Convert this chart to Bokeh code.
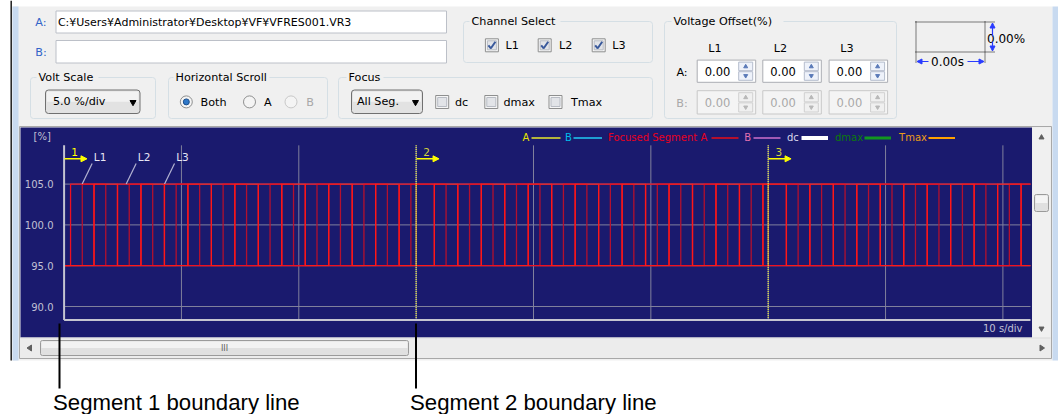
from bokeh.plotting import figure
from bokeh.models import Range1d, Arrow, NormalHead
from bokeh.embed import file_html
from bokeh.resources import INLINE
from bokeh.core.properties import value

# ---------------- data ----------------
LOW_LEVEL = 95.0
HIGH_LEVEL = 105.0
RECORD_END = 82.35          # s, right end of the shown record
L1_EDGES = [0.55, 2.55, 4.55, 6.55, 8.55, 10.55, 12.55, 14.55, 16.55, 18.55, 20.55, 22.55, 24.55, 26.55, 28.55,
            31.55, 33.55, 35.55, 37.55, 39.55, 41.55, 43.55, 45.55, 47.55, 49.55, 51.55, 53.55, 55.55, 57.55, 59.55,
            61.55, 63.55, 65.55, 67.55, 69.55, 71.55, 73.55, 75.55, 77.55, 79.55, 81.55]
L2_EDGES = [1.55, 3.55, 5.55, 7.55, 9.55, 11.55, 13.55, 15.55, 17.55, 19.55, 21.55, 23.55, 25.55, 27.55, 29.55,
            32.55, 34.55, 36.55, 38.55, 40.55, 42.55, 44.55, 46.55, 48.55, 50.55, 52.55, 54.55, 56.55, 58.55,
            62.55, 64.55, 66.55, 68.55, 70.55, 72.55, 74.55, 76.55, 78.55, 80.55]
L3_EDGES = [2.55, 4.55, 6.55, 8.55, 10.55, 12.55, 14.55, 16.55, 18.55, 20.55, 22.55, 24.55, 26.55, 28.55,
            31.55, 33.55, 35.55, 37.55, 39.55, 41.55, 43.55, 45.55, 47.55, 49.55, 51.55, 53.55, 55.55, 57.55, 59.55,
            61.55, 63.55, 65.55, 67.55, 69.55, 71.55, 73.55, 75.55, 77.55, 79.55, 81.55]
START_LEVELS = [95.0, 95.0, 95.0]
PHASES = ["L1", "L2", "L3"]
PHASE_MARK_T = [1.54, 5.29, 8.56]
SEG_STARTS = [0, 30, 60]
SEG_NAMES = ["1", "2", "3"]
Y_TICKS = [90.0, 95.0, 100.0, 105.0]
Y_TICK_LABELS = ["90.0", "95.0", "100.0", "105.0"]
X_GRID = [10, 20, 30, 40, 50, 60, 70, 80]
LEGEND_LABELS = ["A", "B", "Focused Segment A", "B", "dc", "dmax", "Tmax"]
FILE_A = "C:¥Users¥Administrator¥Desktop¥VF¥VFRES001.VR3"
VOLT_SCALE = "5.0 %/div"
TIME_SCALE = "10 s/div"
OFFSET_CHANNELS = ["L1", "L2", "L3"]
OFFSETS_A = ["0.00", "0.00", "0.00"]
OFFSETS_B = ["0.00", "0.00", "0.00"]
CALLOUTS = ["Segment 1 boundary line", "Segment 2 boundary line"]

# ---------------- scales / layout ----------------
W, H = 1058, 414
X0, PX_S = 63.6, 11.735        # pixel of t=0, pixels per second
Y100, PX_PCT = 224.4, 8.16     # pixel of 100 %, pixels per %
T_AXIS_MAX = 82.35
P_MIN, P_MAX = 88.35, 109.75

PANEL = "#f0f0f0"
NAVY = "#1a1a6e"
UI_FONT = "DejaVu Sans"

p = figure(width=W, height=H, x_range=Range1d(0, W), y_range=Range1d(H, 0),
           min_border=0, toolbar_location=None, output_backend="svg",
           x_axis_location=None, y_axis_location=None)
p.grid.visible = False
p.outline_line_color = None
p.background_fill_color = "white"
p.border_fill_color = "white"
p.extra_x_ranges = {"t": Range1d((0 - X0) / PX_S, (W - X0) / PX_S)}
p.extra_y_ranges = {"pct": Range1d(100 - (H - Y100) / PX_PCT, 100 + (Y100 - 0) / PX_PCT)}
TP = dict(x_range_name="t", y_range_name="pct")


def box(l, r, t, b, fill, line=None, lw=1, radius=0):
    p.quad(left=[l], right=[r], top=[t], bottom=[b], fill_color=fill, line_color=line,
           line_width=lw, border_radius=radius)


def txt(x, y, s, size=11, color="black", align="left", font=UI_FONT, baseline="middle", **kw):
    p.text(x=[x], y=[y], text=[s], text_font=value(font), text_font_size=f"{size}px",
           text_color=color, text_align=align, text_baseline=baseline, **kw)


def seg(x0, y0, x1, y1, color, lw=1, dash="solid", **kw):
    p.segment(x0=[x0], y0=[y0], x1=[x1], y1=[y1], line_color=color, line_width=lw, line_dash=dash, **kw)


def group(l, r, t, b, label, lx, lw):
    box(l, r, t, b, None, "#d5dfe5", 1, 3)
    box(lx - 2, lx + lw + 2, t - 4, t + 4, PANEL, None)
    txt(lx, t, label, 11.2)


def checkbox(cx, cy, checked):
    box(cx - 6.5, cx + 6.5, cy - 6.5, cy + 6.5, "#f6f6f6", "#8e8f8f")
    box(cx - 4.5, cx + 4.5, cy - 4.5, cy + 4.5, "#e2e4e8", "#b8bcc4")
    if checked:
        p.line(x=[cx - 3.5, cx - 1, cx + 3.5], y=[cy, cy + 3, cy - 3.5], line_color="#3a5a9c", line_width=2)


def radio(cx, cy, selected, disabled=False):
    p.scatter(x=[cx], y=[cy], size=12, marker="circle", fill_color="#f4f4f4",
              line_color="#c8c8c8" if disabled else "#8e8f8f")
    if selected:
        p.scatter(x=[cx], y=[cy], size=6, marker="circle", fill_color="#2f78c8", line_color="#1c4f8c")


def combo(l, r, t, b, text, tx):
    box(l, r, t, b, "#e2e2e2", "#707070", 1, 3)
    box(l + 1.5, r - 1.5, t + 1.5, (t + b) / 2, "#f2f2f2", None)
    txt(tx, (t + b) / 2, text, 11.2)
    p.scatter(x=[r - 7], y=[(t + b) / 2 + 0.5], marker="inverted_triangle", size=6,
              fill_color="black", line_color="black")


def spin(l, r, t, b, text, disabled):
    box(l, r, t, b, "#f4f4f4" if disabled else "white", "#c8c8c8" if disabled else "#abadb3")
    bl, br, mid = r - 17, r - 3, (t + b) / 2
    bfill = "#f0f0f0" if disabled else "#eef2fa"
    bline = "#d0d0d0" if disabled else "#b4bccc"
    box(bl, br, t + 2, mid - 0.5, bfill, bline)
    box(bl, br, mid + 0.5, b - 2, bfill, bline)
    ac = "#b8b8b8" if disabled else "#5a7ab8"
    p.scatter(x=[(bl + br) / 2], y=[(t + 2 + mid) / 2], marker="triangle", size=4, fill_color=ac, line_color=ac)
    p.scatter(x=[(bl + br) / 2], y=[(mid + b - 2) / 2], marker="inverted_triangle", size=4, fill_color=ac, line_color=ac)
    txt(l + 7.5, mid, text, 11.5, "#a8a8a8" if disabled else "black")


# ---------------- window panel ----------------
box(12, 1052, 6, 360, PANEL, None)
box(12, 18, 6, 360, "#c8daf0", None)
box(1052, 1058, 6, 360, "#c8daf0", None)
seg(10.7, 0, 10.7, 360, "#1e1e1e", 1.5)

# file rows
txt(34.8, 21.5, "A:", 11.2, "#3264c8")
box(55.5, 446, 10.5, 32.5, "white", "#bcc0c8")
txt(57.4, 21.5, FILE_A, 11)
txt(34.8, 51.5, "B:", 11.2, "#3264c8")
box(55.5, 446, 40, 62.5, "white", "#bcc0c8")

# Channel Select
group(463, 652, 21, 62, "Channel Select", 471, 87)
for cx, tx, lab in zip([491.4, 544.2, 598.2], [505, 558.6, 611.8], PHASES):
    checkbox(cx, 44.8, True)
    txt(tx, 45, lab, 11.2)

# Volt Scale
group(30, 155, 77, 118, "Volt Scale", 38, 58)
combo(45, 139.5, 89.5, 113, VOLT_SCALE, 52.4)

# Horizontal Scroll
group(168, 327, 77, 118, "Horizontal Scroll", 175, 92)
radio(185.8, 101.4, True)
txt(200, 101.5, "Both", 11.2)
radio(249, 101.4, False)
txt(263.5, 101.5, "A", 11.2)
radio(290.5, 101.4, False, True)
txt(305.7, 101.5, "B", 11.2, "#a8a8a8")

# Focus
group(338, 652, 77, 118, "Focus", 348, 33)
combo(351, 422, 89.5, 113, "All Seg.", 356.4)
for cx, tx, lab in zip([441.7, 490.8, 555], [454.4, 503, 570.4], ["dc", "dmax", "Tmax"]):
    checkbox(cx, 101.5, False)
    txt(tx, 101.5, lab, 11.2)

# Voltage Offset
group(664, 896, 21, 118, "Voltage Offset(%)", 673, 108)
for cx, lab in zip([714.5, 780, 846.5], OFFSET_CHANNELS):
    txt(cx, 48, lab, 11.2, align="center")
txt(681.5, 72.4, "A:", 11.2, align="center")
txt(681.5, 102.7, "B:", 11.2, "#a8a8a8", align="center")
for l, va, vb in zip([696.7, 762.3, 828.6], OFFSETS_A, OFFSETS_B):
    spin(l, l + 58.5, 59.6, 81.8, va, False)
    spin(l, l + 58.5, 90.2, 113.5, vb, True)

# cursor delta widget (top right)
seg(915, 21.5, 995, 21.5, "black", 1, "1 1")
seg(915, 51.5, 995, 51.5, "black", 1, "1 1")
seg(915.5, 21, 915.5, 63, "black", 1, "1 1")
seg(984.5, 21, 984.5, 63, "black", 1, "1 1")
BLUE = "#2a3cff"
for xs, ys, xe, ye in [(992, 36, 992, 22.5), (992, 41, 992, 50.5), (928, 61, 916.5, 61), (967, 61, 983.5, 61)]:
    p.add_layout(Arrow(x_start=xs, y_start=ys, x_end=xe, y_end=ye, line_color=BLUE, line_width=1.2,
                       end=NormalHead(size=5, fill_color=BLUE, line_color=BLUE)))
txt(986.5, 38.5, "0.00%", 12)
txt(930.5, 61, "0.00s", 12)

# ---------------- plot control frame ----------------
box(19, 1051, 126, 358, "#ececec", "#a8a8a8")
box(20, 1031.5, 127, 337, NAVY, None)
# vertical scrollbar
box(1032, 1050, 127, 337, "#f0f0f0", None)
box(1034, 1048, 194, 211, "#e0e0e0", "#9a9a9a", 1, 2)
box(1035, 1047, 195, 202.5, "#f4f4f4", None)
p.scatter(x=[1041], y=[137], marker="triangle", size=5, fill_color="#606060", line_color="#606060")
p.scatter(x=[1041], y=[328], marker="inverted_triangle", size=5, fill_color="#606060", line_color="#606060")
# horizontal scrollbar
box(20, 1050, 338, 357, "#ececec", None)
seg(20, 337.5, 1050, 337.5, "#dcdcdc", 1)
box(40, 408, 340, 355, "#e0e0e0", "#9a9a9a", 1, 2)
box(41, 407, 341, 347.5, "#f2f2f2", None)
txt(224, 348, "III", 8, "#606060", align="center")
p.patch(x=[26.5, 31, 31], y=[347.5, 344.5, 350.5], fill_color="#606060", line_color="#606060")
p.patch(x=[1044, 1039.5, 1039.5], y=[347.5, 344.5, 350.5], fill_color="#606060", line_color="#606060")

# ---------------- chart ----------------
GRID_C = "#80809c"
p.segment(x0=X_GRID, y0=[P_MIN] * len(X_GRID), x1=X_GRID, y1=[P_MAX] * len(X_GRID),
          line_color=GRID_C, line_width=1, **TP)
p.segment(x0=[0] * len(Y_TICKS), y0=Y_TICKS, x1=[T_AXIS_MAX] * len(Y_TICKS), y1=Y_TICKS,
          line_color=GRID_C, line_width=1, **TP)


def wave(edges, start):
    xs, ys, lvl = [0.0], [start], start
    for e in edges:
        lvl = HIGH_LEVEL if lvl == LOW_LEVEL else LOW_LEVEL
        xs.append(e)
        ys.append(lvl)
    xs.append(RECORD_END)
    ys.append(lvl)
    return xs, ys


for edges, start, col in [(L2_EDGES, START_LEVELS[1], "#b4102e"),
                          (L1_EDGES, START_LEVELS[0], "#ee1020"),
                          (L3_EDGES, START_LEVELS[2], "#ff1818")]:
    xs, ys = wave(edges, start)
    p.step(x=xs, y=ys, mode="after", line_color=col, line_width=1.3, **TP)

# segment boundary lines
for s in SEG_STARTS[1:]:
    p.segment(x0=[s], y0=[P_MIN], x1=[s], y1=[P_MAX], line_color="#f0f040", line_width=1.2,
              line_dash="1 1", **TP)
    p.segment(x0=[s], y0=[LOW_LEVEL], x1=[s], y1=[HIGH_LEVEL], line_color="#ff9a10", line_width=1.2,
              line_dash="1 1", line_dash_offset=1, **TP)

# axes
AX_C = "#c4c4d0"
p.segment(x0=[0], y0=[P_MIN], x1=[0], y1=[P_MAX], line_color=AX_C, line_width=2, **TP)
p.segment(x0=[0], y0=[P_MIN], x1=[T_AXIS_MAX], y1=[P_MIN], line_color=AX_C, line_width=2, **TP)
p.text(x=[53] * len(Y_TICKS), y=Y_TICKS, text=Y_TICK_LABELS, text_font=value(UI_FONT), text_font_size="10px",
       text_color="#c0c0d4", text_align="right", text_baseline="middle", y_range_name="pct")
txt(33, 135.5, "[%]", 10, "#c0c0d4")
txt(1022, 327.5, TIME_SCALE, 10, "#c0c0d4", align="right")

# segment markers
for s, name in zip(SEG_STARTS, SEG_NAMES):
    p.add_layout(Arrow(x_start=s + 0.03, y_start=108.1, x_end=s + 1.95, y_end=108.1, line_color="#ffff00",
                       line_width=1.5, end=NormalHead(size=6, fill_color="#ffff00", line_color="#ffff00"), **TP))
    p.text(x=[s + 0.9], y=[108.95], text=[name], text_font=value(UI_FONT), text_font_size="10.5px",
           text_color="#ffff00" if s == 0 else "#d2d23c", text_align="center", text_baseline="middle", **TP)

# phase labels
for t, name in zip(PHASE_MARK_T, PHASES):
    p.segment(x0=[t], y0=[HIGH_LEVEL], x1=[t + 0.85], y1=[HIGH_LEVEL + 2.52], line_color="#b4b4d2",
              line_width=1.2, **TP)
    p.text(x=[t + 0.99], y=[108.3], text=[name], text_font=value(UI_FONT), text_font_size="10.5px",
           text_color="#e6e6f4", text_align="left", text_baseline="middle", **TP)

# legend row
LEG_STYLE = [("#e6e600", 522, 531, 560, "#b4b43c", 2),
             ("#00bceb", 564.5, 573, 601.5, "#1e9ed2", 2),
             ("#e8001e", 607.5, 711, 738, "#b4102d", 2),
             ("#e070b0", 743.8, 753, 780, "#a05ab4", 2),
             ("#d8d8ec", 786.5, 801, 827.5, "#ffffff", 4),
             ("#0c7a0c", 834.5, 864, 890.5, "#129620", 3),
             ("#eb9a18", 898.6, 928, 954.5, "#ffa000", 2)]
for lab, (tc, tx, l0, l1, lc, lw) in zip(LEGEND_LABELS, LEG_STYLE):
    txt(tx, 137, lab, 10, tc)
    seg(l0, 137.5, l1, 137.5, lc, lw)

# ---------------- call-outs ----------------
for cx in [59, 415.5]:
    seg(cx, 323, cx, 388, "black", 2)
for tx, lab in zip([52.5, 409.5], CALLOUTS):
    txt(tx, 401.5, lab, 22.2, "black", font="Liberation Sans", baseline="middle")

open("out.html", "w").write(file_html(p, INLINE))
